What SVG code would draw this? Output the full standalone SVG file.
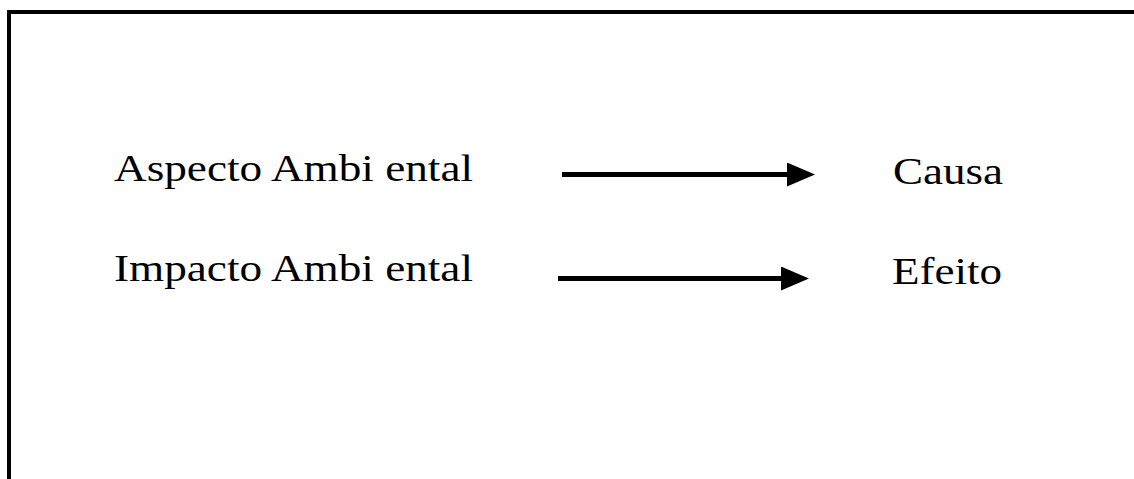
<svg xmlns="http://www.w3.org/2000/svg" width="1134" height="479" viewBox="0 0 1134 479">
  <style>
    .frame { fill: none; stroke: #000; stroke-width: 4; stroke-linejoin: miter; }
    .label { font-family: "Liberation Serif", "Times New Roman", serif; font-size: 37px; fill: #000; }
    .link { stroke: #000; stroke-width: 5; fill: none; }
  </style>
  <defs>
    <marker id="arrowhead" markerUnits="userSpaceOnUse" markerWidth="30" markerHeight="26" refX="0" refY="12" orient="auto">
      <polygon points="0,0 28,12 0,24" fill="#000"/>
    </marker>
  </defs>
  <rect width="1134" height="479" fill="#fff"/>
  <!-- open frame: left and top edges -->
  <path class="frame" d="M9,479 V12 H1134"/>

  <g id="aspecto">
    <text class="label" x="114" y="181" textLength="359" lengthAdjust="spacingAndGlyphs">Aspecto Ambi ental</text>
  </g>
  <g id="impacto">
    <text class="label" x="114" y="281" textLength="359" lengthAdjust="spacingAndGlyphs">Impacto Ambi ental</text>
  </g>
  <g id="causa">
    <text class="label" x="893" y="184" textLength="110" lengthAdjust="spacingAndGlyphs">Causa</text>
  </g>
  <g id="efeito">
    <text class="label" x="892" y="284" textLength="110" lengthAdjust="spacingAndGlyphs">Efeito</text>
  </g>

  <g id="connectors">
    <line class="link" x1="562" y1="174.5" x2="787" y2="174.5" marker-end="url(#arrowhead)"/>
    <line class="link" x1="558" y1="278.5" x2="781" y2="278.5" marker-end="url(#arrowhead)"/>
  </g>
</svg>
